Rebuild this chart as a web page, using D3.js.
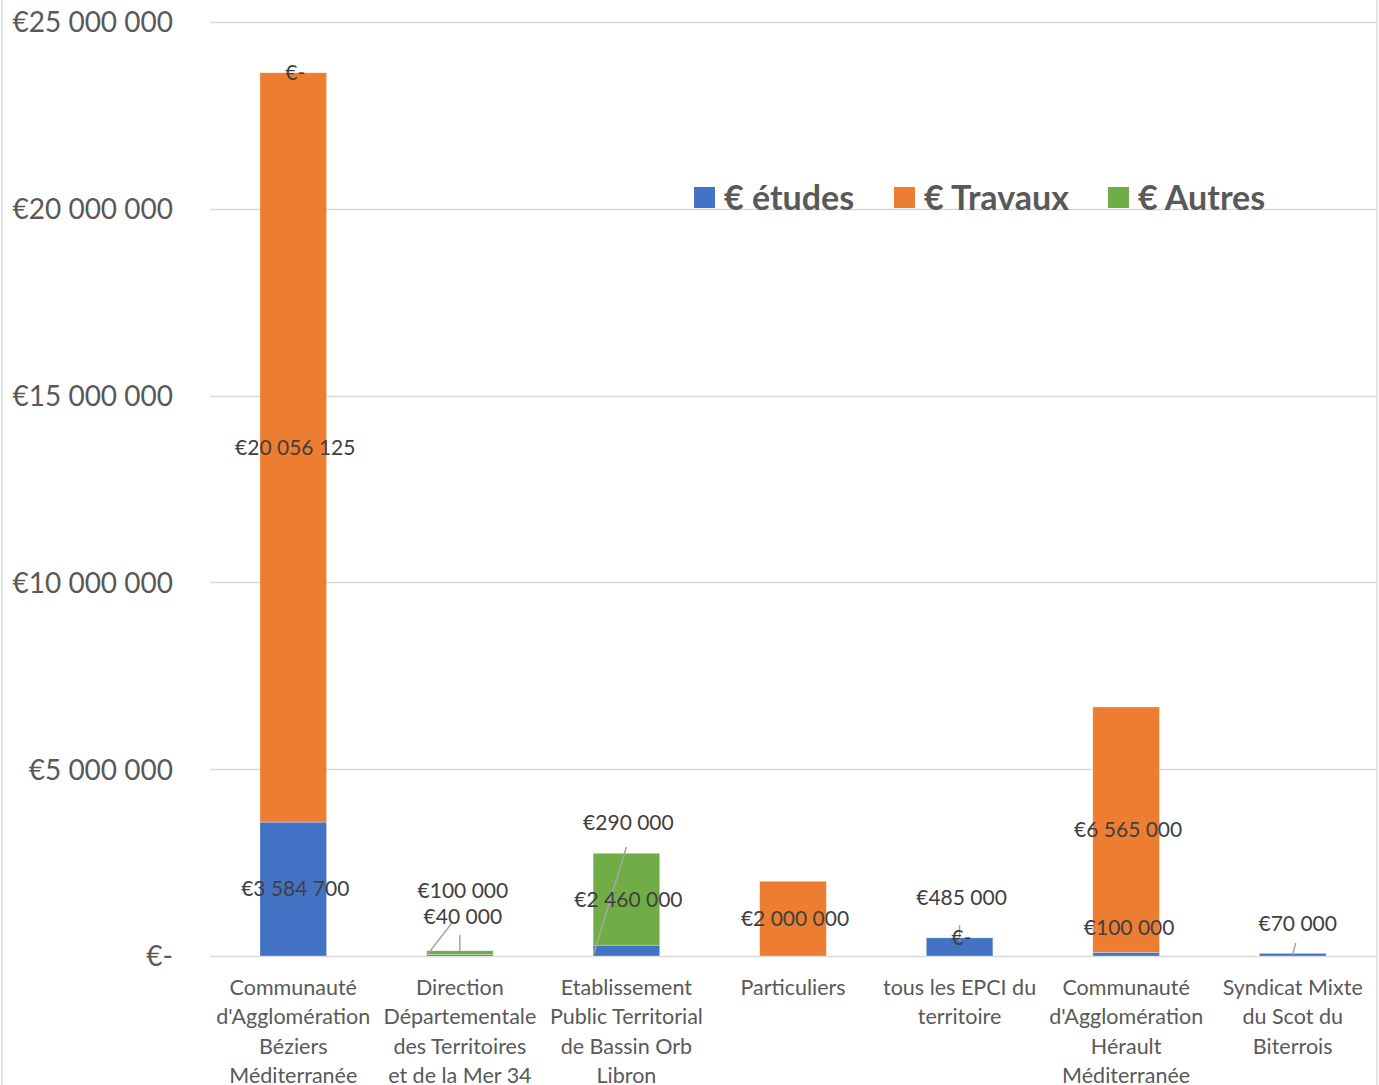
<!DOCTYPE html>
<html><head><meta charset="utf-8">
<script src="https://cdn.jsdelivr.net/npm/d3@7"></script>
<style>html,body{margin:0;padding:0;background:#fff;}svg{display:block;}</style>
</head><body>
<svg id="chart" width="1379" height="1085"></svg>
<script>
// ---- DATA ----
const categories = [
  ["Communauté","d'Agglomération","Béziers","Méditerranée"],
  ["Direction","Départementale","des Territoires","et de la Mer 34"],
  ["Etablissement","Public Territorial","de Bassin Orb","Libron"],
  ["Particuliers"],
  ["tous les EPCI du","territoire"],
  ["Communauté","d'Agglomération","Hérault","Méditerranée"],
  ["Syndicat Mixte","du Scot du","Biterrois"]
];
const seriesNames = ["€ études", "€ Travaux", "€ Autres"];
const etudes  = [3584700, 40000, 290000, 0, 485000, 100000, 70000];
const travaux = [20056125, 0, 0, 2000000, 0, 6565000, 0];
const autres  = [0, 100000, 2460000, 0, 0, 0, 0];
const yTicks = [0, 5000000, 10000000, 15000000, 20000000, 25000000];
// which data labels are shown: [categoryIndex, seriesIndex]
const shownLabels = [
  [0,0],[0,1],[0,2],
  [1,0],[1,2],
  [2,0],[2,2],
  [3,1],
  [4,0],[4,1],
  [5,0],[5,1],
  [6,0]
];

// ---- STYLE / LAYOUT ----
const colors = ["#4472C4", "#ED7D31", "#70AD47"];
const W = 1379, H = 1085;
const plot = {left: 210, right: 1376, top: 22, bottom: 956};
const FONT = "Lato, 'Open Sans', sans-serif";
// manual label positions (pixel offsets from segment center) and leader lines
const labelAdjust = {
  "1-0": {dx: 3, dy: -39, leader: [[-32, -2], [-8, -33]], leader2: [[0, -5], [0, -21]]},
  "1-2": {dx: 3, dy: -62},
  "2-0": {dx: 2, dy: -128, leader: [[-33, -1], [0, -109]]},
  "4-0": {dx: 2, dy: -49, leader: [[0, -15], [0, -31]]},
  "5-0": {dx: 3, dy: -26},
  "6-0": {dx: 5, dy: -31, leader: [[0, -1], [3, -13]]}
};

const fmt = v => v === 0 ? "€-" : "€" + d3.format(",")(v).replace(/,/g, " ");

const svg = d3.select("#chart");
svg.append("rect").attr("x", 2).attr("y", -10).attr("width", 1375).attr("height", H + 20)
  .attr("fill", "#fff").attr("stroke", "#d9d9d9").attr("stroke-width", 1.5);

const x = d3.scaleBand().domain(d3.range(categories.length))
  .range([plot.left, plot.right]).paddingInner(0.6).paddingOuter(0.3);
const y = d3.scaleLinear().domain([0, 25000000]).range([plot.bottom, plot.top]);

// gridlines
svg.append("g").selectAll("line").data(yTicks).join("line")
  .attr("x1", plot.left).attr("x2", plot.right)
  .attr("y1", d => Math.round(y(d)) + 0.5).attr("y2", d => Math.round(y(d)) + 0.5)
  .attr("stroke", "#d9d9d9").attr("stroke-width", 1.5);

// y axis labels
const yAxis = d3.axisLeft(y).tickValues(yTicks).tickFormat(fmt).tickSize(0).tickPadding(0);
const gy = svg.append("g").attr("transform", `translate(173,0)`).call(yAxis);
gy.select(".domain").remove();
gy.selectAll("text").attr("font-family", FONT).attr("font-size", 28)
  .attr("fill", "#595959").attr("dy", "0.35em");

// stacked data
const rows = categories.map((c, i) => ({i, s0: etudes[i], s1: travaux[i], s2: autres[i]}));
const stack = d3.stack().keys(["s0", "s1", "s2"])(rows);

const bw = x.bandwidth();
svg.append("g").selectAll("g").data(stack).join("g")
  .attr("fill", (d, k) => colors[k])
  .selectAll("rect").data(d => d).join("rect")
  .attr("x", d => x(d.data.i)).attr("width", bw)
  .attr("y", d => y(d[1])).attr("height", d => y(d[0]) - y(d[1]))
  .attr("stroke", "#fff").attr("stroke-width", 0.6).attr("stroke-opacity", 0.5);

// data labels
const vals = [etudes, travaux, autres];
const lg = svg.append("g");
shownLabels.forEach(([ci, si]) => {
  const seg = stack[si][ci];
  const cx = x(ci) + bw / 2;
  const cy = (y(seg[0]) + y(seg[1])) / 2;
  const adj = labelAdjust[ci + "-" + si] || {dx: 2, dy: 0};
  const lx = cx + adj.dx, ly = cy + adj.dy;
  [adj.leader, adj.leader2].forEach(ld => {
    if (!ld) return;
    lg.append("line")
      .attr("x1", cx + ld[0][0]).attr("y1", y(seg[0]) + ld[0][1])
      .attr("x2", cx + ld[1][0]).attr("y2", y(seg[0]) + ld[1][1])
      .attr("stroke", "#a6a6a6").attr("stroke-width", 1.5);
  });
  lg.append("text").attr("x", lx).attr("y", ly).attr("dy", "0.35em")
    .attr("text-anchor", "middle")
    .attr("font-family", FONT).attr("font-size", 21)
    .attr("fill", "#404040").text(fmt(vals[si][ci]));
});

// category labels
const cg = svg.append("g");
categories.forEach((lines, i) => {
  const t = cg.append("text")
    .attr("text-anchor", "middle").attr("font-family", FONT)
    .attr("font-size", 21.5).attr("fill", "#595959");
  lines.forEach((l, j) => t.append("tspan").attr("x", x(i) + bw / 2)
    .attr("y", 987 + j * 29.5).attr("dy", "0.35em").text(l));
});

// legend
const legendX = [694, 894, 1108];
const leg = svg.append("g");
seriesNames.forEach((n, k) => {
  leg.append("rect").attr("x", legendX[k]).attr("y", 187).attr("width", 21).attr("height", 21).attr("fill", colors[k]);
  leg.append("text").attr("x", legendX[k] + 30).attr("y", 198).attr("dy", "0.35em")
    .attr("font-family", FONT).attr("font-weight", "bold")
    .attr("font-size", 34).attr("fill", "#595959").text(n);
});
</script>
</body></html>
